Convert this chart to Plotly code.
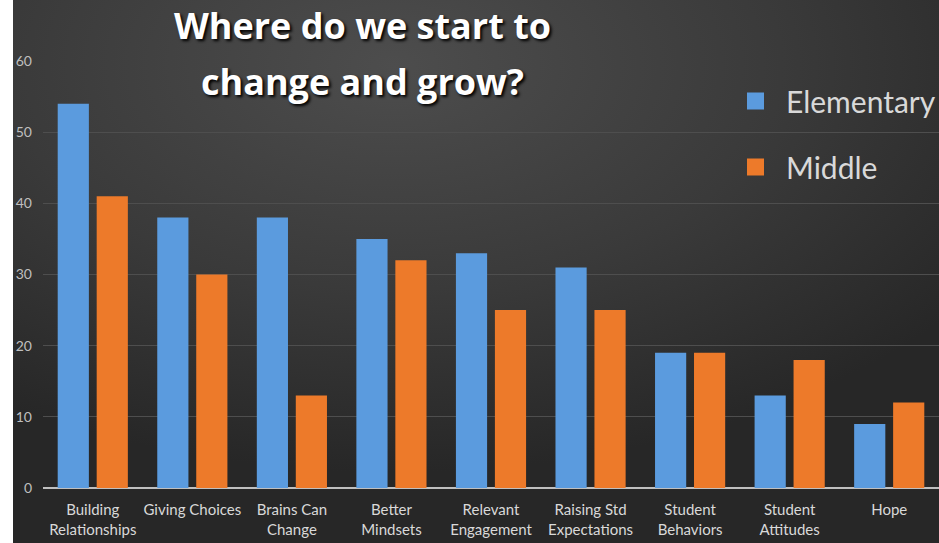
import base64
import plotly.graph_objects as go

categories = ["Building<br>Relationships", "Giving Choices", "Brains Can<br>Change",
              "Better<br>Mindsets", "Relevant<br>Engagement", "Raising Std<br>Expectations",
              "Student<br>Behaviors", "Student<br>Attitudes", "Hope"]
elementary = [54, 38, 38, 35, 33, 31, 19, 13, 9]
middle = [41, 30, 13, 32, 25, 25, 19, 18, 12]
y_ticks = [0, 10, 20, 30, 40, 50, 60]
series_names = ["Elementary", "Middle"]
title_lines = ["Where do we start to", "change and grow?"]

BLUE = "#5b9bde"
ORANGE = "#ed7a2a"
TEXT = "#d9d9d9"

W, H = 939, 543
ML, MR, MT, MB = 43, 0, 61, 55
PW, PH = W - ML - MR, H - MT - MB


def px_x(x):
    return (x - ML) / PW


def px_y(y):
    return (H - MB - y) / PH


svg = f'''<svg xmlns="http://www.w3.org/2000/svg" width="{W}" height="{H}" viewBox="0 0 {W} {H}" preserveAspectRatio="none">
<defs><radialGradient id="g" cx="0.42" cy="0.12" r="0.75" gradientUnits="objectBoundingBox">
<stop offset="0" stop-color="#4d4d4d"/><stop offset="0.55" stop-color="#3a3a3a"/><stop offset="1" stop-color="#272727"/>
</radialGradient></defs>
<rect x="0" y="0" width="{W}" height="{H}" fill="url(#g)"/></svg>'''
bg_src = "data:image/svg+xml;base64," + base64.b64encode(svg.encode()).decode()

fig = go.Figure()
fig.add_trace(go.Bar(x=categories, y=elementary, name=series_names[0], marker_color=BLUE,
                     marker_line_width=0, showlegend=False))
fig.add_trace(go.Bar(x=categories, y=middle, name=series_names[1], marker_color=ORANGE,
                     marker_line_width=0, showlegend=False))

annotations = []
for i, (line, py) in enumerate(zip(title_lines, [26, 81])):
    annotations.append(dict(text=f"<b>{line}</b>", x=px_x(362), y=px_y(py), xref="paper", yref="paper",
                            xanchor="center", yanchor="middle", showarrow=False,
                            font=dict(family="Open Sans", size=36, color="#ffffff",
                                      shadow="2px 2px 3px #000000")))

shapes = [dict(type="rect", xref="paper", yref="paper", x0=px_x(0), x1=px_x(13), y0=px_y(H), y1=px_y(0),
               fillcolor="#ffffff", line_width=0, layer="above")]
for name, color, cy in zip(series_names, [BLUE, ORANGE], [101, 167]):
    shapes.append(dict(type="rect", xref="paper", yref="paper", x0=px_x(747), x1=px_x(764),
                       y0=px_y(cy + 8.5), y1=px_y(cy - 8.5), fillcolor=color, line_width=0))
    annotations.append(dict(text=name, x=px_x(784), y=px_y(cy), xref="paper", yref="paper",
                            xanchor="left", yanchor="middle", showarrow=False,
                            font=dict(family="Lato", size=30, color=TEXT)))

fig.update_layout(
    width=W, height=H,
    margin=dict(l=ML, r=MR, t=MT, b=MB),
    paper_bgcolor="#2e2e2e", plot_bgcolor="rgba(0,0,0,0)",
    barmode="group", bargap=0.217, bargroupgap=0.2,
    images=[dict(source=bg_src, xref="paper", yref="paper", x=px_x(0), y=px_y(0),
                 sizex=W / PW, sizey=H / PH, sizing="stretch", layer="below",
                 xanchor="left", yanchor="top")],
    shapes=shapes, annotations=annotations,
    xaxis=dict(showgrid=False, tickfont=dict(family="Lato", size=15, color=TEXT),
               showline=False, ticks="", ticklabelstandoff=11, tickangle=0, automargin=False),
    yaxis=dict(range=[0, 60], tickvals=y_ticks, showgrid=True, gridcolor="#4e4e4e", gridwidth=1,
               zeroline=True, zerolinecolor="#bfbfbf", zerolinewidth=2, automargin=False,
               tickfont=dict(family="Lato", size=14, color="#bfbfbf"), ticklabelstandoff=10),
    font=dict(family="Lato"),
)

fig.write_html("out.html")
